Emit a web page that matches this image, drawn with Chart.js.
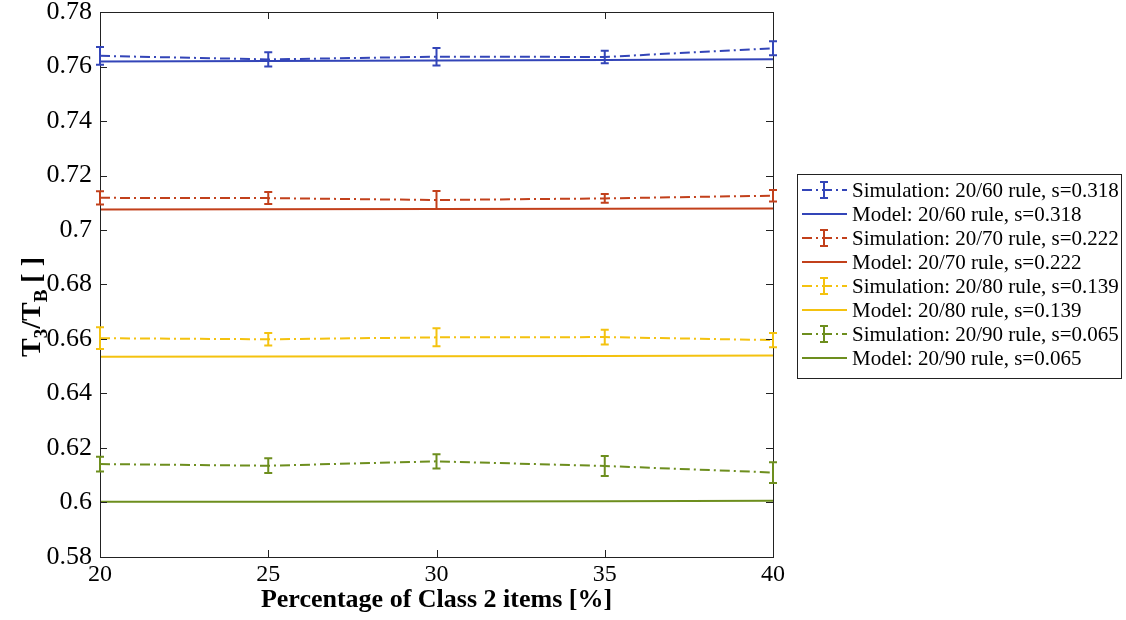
<!DOCTYPE html>
<html>
<head>
<meta charset="utf-8">
<script src="https://cdn.jsdelivr.net/npm/chart.js@4.4.1/dist/chart.umd.min.js"></script>
<style>
  html, body { margin: 0; padding: 0; background: #fff; }
  #wrap { width: 1126px; height: 620px; }
</style>
</head>
<body>
<div id="wrap"><canvas id="chart" width="1126" height="620"></canvas></div>
<script>
'use strict';

// ─── Data ─────────────────────────────────────────────────────────────────────

const xValues = [20, 25, 30, 35, 40];
const xTicks  = [20, 25, 30, 35, 40];
const yTicks  = [0.58, 0.6, 0.62, 0.64, 0.66, 0.68, 0.7, 0.72, 0.74, 0.76, 0.78];

// 20/60 rule, s=0.318
const sim60   = [0.7639, 0.7626, 0.7636, 0.7635, 0.7667];
const err60   = [0.0033, 0.0026, 0.0032, 0.0023, 0.0026];
const model60 = [0.7618, 0.7620, 0.7622, 0.7624, 0.7627];

// 20/70 rule, s=0.222
const sim70   = [0.7118, 0.7117, 0.7110, 0.7116, 0.7126];
const err70   = [0.0024, 0.0022, 0.0033, 0.0016, 0.0021];
const model70 = [0.7075, 0.7076, 0.7077, 0.7078, 0.7079];

// 20/80 rule, s=0.139
const sim80   = [0.6603, 0.6599, 0.6606, 0.6607, 0.6596];
const err80   = [0.0040, 0.0023, 0.0033, 0.0027, 0.0026];
const model80 = [0.6535, 0.6536, 0.6537, 0.6538, 0.6539];

// 20/90 rule, s=0.065
const sim90   = [0.6141, 0.6135, 0.6151, 0.6134, 0.6110];
const err90   = [0.0027, 0.0027, 0.0026, 0.0037, 0.0038];
const model90 = [0.6003, 0.6003, 0.6004, 0.6005, 0.6006];

const ruleNames = ['20/60 rule, s=0.318', '20/70 rule, s=0.222', '20/80 rule, s=0.139', '20/90 rule, s=0.065'];

// ─── Styles ───────────────────────────────────────────────────────────────────

const COLORS   = ['#3345b8', '#c2401b', '#f4c20f', '#6d8e1e'];
const DASHDOT  = [10, 4, 2, 4];
const SERIF    = '"Liberation Serif", "DejaVu Serif", serif';

// ─── Helpers ──────────────────────────────────────────────────────────────────

function toPoints(values) {
  return xValues.map((x, i) => ({ x, y: values[i] }));
}

function simSet(i, values, errors) {
  return {
    label: 'Simulation: ' + ruleNames[i],
    data: toPoints(values),
    errors,
    borderColor: COLORS[i],
    borderWidth: 2,
    borderDash: DASHDOT,
    pointRadius: 0,
    tension: 0,
  };
}

function modelSet(i, values) {
  return {
    label: 'Model: ' + ruleNames[i],
    data: toPoints(values),
    borderColor: COLORS[i],
    borderWidth: 2,
    pointRadius: 0,
    tension: 0,
  };
}

function fmtTick(v) {
  return String(parseFloat(Number(v).toFixed(2)));
}

// ─── Plugins ──────────────────────────────────────────────────────────────────

// box frame with inward ticks, matlab style
const framePlugin = {
  id: 'frame',
  afterDatasetsDraw(chart) {
    const { ctx, chartArea: a, scales: { x, y } } = chart;
    ctx.save();
    ctx.strokeStyle = '#222';
    ctx.lineWidth = 1;
    ctx.strokeRect(a.left + 0.5, a.top + 0.5, a.right - a.left, a.bottom - a.top);
    ctx.beginPath();
    yTicks.forEach(v => {
      const py = Math.round(y.getPixelForValue(v)) + 0.5;
      ctx.moveTo(a.left, py);  ctx.lineTo(a.left + 7, py);
      ctx.moveTo(a.right, py); ctx.lineTo(a.right - 7, py);
    });
    xTicks.forEach(v => {
      const px = Math.round(x.getPixelForValue(v)) + 0.5;
      ctx.moveTo(px, a.bottom); ctx.lineTo(px, a.bottom - 7);
      ctx.moveTo(px, a.top);    ctx.lineTo(px, a.top + 7);
    });
    ctx.stroke();
    ctx.restore();
  },
};

function drawErrorBar(ctx, px, top, bot, cap) {
  ctx.beginPath();
  ctx.moveTo(px, top);       ctx.lineTo(px, bot);
  ctx.moveTo(px - cap, top); ctx.lineTo(px + cap, top);
  ctx.moveTo(px - cap, bot); ctx.lineTo(px + cap, bot);
  ctx.stroke();
}

const errorBarPlugin = {
  id: 'errorBars',
  afterDatasetsDraw(chart) {
    const { ctx, scales: { x, y } } = chart;
    chart.data.datasets.forEach(ds => {
      if (!ds.errors) return;
      ctx.save();
      ctx.strokeStyle = ds.borderColor;
      ctx.lineWidth = 2;
      ds.data.forEach((pt, i) => {
        const px = x.getPixelForValue(pt.x);
        drawErrorBar(ctx, px,
          y.getPixelForValue(pt.y + ds.errors[i]),
          y.getPixelForValue(pt.y - ds.errors[i]), 4);
      });
      ctx.restore();
    });
  },
};

// legend box on the right, with error bar glyph on simulation rows
const legendPlugin = {
  id: 'boxLegend',
  afterDraw(chart) {
    const { ctx, chartArea: a } = chart;
    const left = a.right + 24, top = a.top + 162;
    const rowH = 24, width = 324;
    const sets = chart.data.datasets;
    const height = sets.length * rowH + 12;
    ctx.save();
    ctx.fillStyle = '#fff';
    ctx.fillRect(left, top, width, height);
    ctx.strokeStyle = '#222';
    ctx.lineWidth = 1;
    ctx.strokeRect(left + 0.5, top + 0.5, width, height);
    ctx.font = '21px ' + SERIF;
    ctx.textBaseline = 'middle';
    sets.forEach((ds, i) => {
      const cy = top + 16 + i * rowH;
      ctx.strokeStyle = ds.borderColor;
      ctx.lineWidth = 2;
      ctx.setLineDash(ds.borderDash || []);
      ctx.beginPath();
      ctx.moveTo(left + 5, cy);
      ctx.lineTo(left + 50, cy);
      ctx.stroke();
      ctx.setLineDash([]);
      if (ds.errors) drawErrorBar(ctx, left + 27, cy - 8, cy + 8, 4);
      ctx.fillStyle = '#000';
      ctx.fillText(ds.label, left + 55, cy + 1);
    });
    ctx.restore();
  },
};

// y axis title T_3/T_B [ ] with subscripts
const yTitlePlugin = {
  id: 'yTitle',
  afterDraw(chart) {
    const { ctx } = chart;
    const big = 'bold 28px ' + SERIF, small = 'bold 19px ' + SERIF;
    const parts = [['T', big, 0], ['3', small, 7], ['/T', big, 0], ['B', small, 7], [' [ ]', big, 0]];
    ctx.save();
    let total = 0;
    parts.forEach(p => { ctx.font = p[1]; total += ctx.measureText(p[0]).width; });
    ctx.translate(40, 307);
    ctx.rotate(-Math.PI / 2);
    ctx.fillStyle = '#000';
    ctx.textBaseline = 'alphabetic';
    let cx = -total / 2;
    parts.forEach(p => {
      ctx.font = p[1];
      ctx.fillText(p[0], cx, p[2]);
      cx += ctx.measureText(p[0]).width;
    });
    ctx.restore();
  },
};

// ─── Chart ────────────────────────────────────────────────────────────────────

new Chart(document.getElementById('chart'), {
  type: 'line',
  data: {
    datasets: [
      simSet(0, sim60, err60), modelSet(0, model60),
      simSet(1, sim70, err70), modelSet(1, model70),
      simSet(2, sim80, err80), modelSet(2, model80),
      simSet(3, sim90, err90), modelSet(3, model90),
    ],
  },
  options: {
    responsive: false,
    animation: false,
    layout: { padding: { left: 0, top: 12, right: 353, bottom: 0 } },
    scales: {
      x: {
        type: 'linear',
        min: 20,
        max: 40,
        afterFit: s => { s.height = 63; s.paddingLeft = 0; s.paddingRight = 0; },
        afterBuildTicks: s => { s.ticks = xTicks.map(v => ({ value: v })); },
        grid: { display: false, drawTicks: false },
        border: { display: false },
        ticks: {
          padding: 3,
          color: '#000',
          font: { family: SERIF, size: 24 },
          callback: v => String(v),
          maxRotation: 0,
        },
        title: {
          display: true,
          text: 'Percentage of Class 2 items [%]',
          color: '#000',
          font: { family: SERIF, size: 26, weight: 'bold' },
          padding: { top: 0, bottom: 4 },
        },
      },
      y: {
        min: 0.58,
        max: 0.78,
        afterFit: s => { s.width = 100; s.paddingTop = 0; s.paddingBottom = 0; },
        afterBuildTicks: s => { s.ticks = yTicks.map(v => ({ value: v })); },
        grid: { display: false, drawTicks: false },
        border: { display: false },
        ticks: {
          padding: 8,
          color: '#000',
          font: { family: SERIF, size: 26 },
          callback: fmtTick,
        },
      },
    },
    plugins: {
      legend: { display: false },
      tooltip: { enabled: false },
    },
  },
  plugins: [framePlugin, errorBarPlugin, legendPlugin, yTitlePlugin],
});
</script>
</body>
</html>
